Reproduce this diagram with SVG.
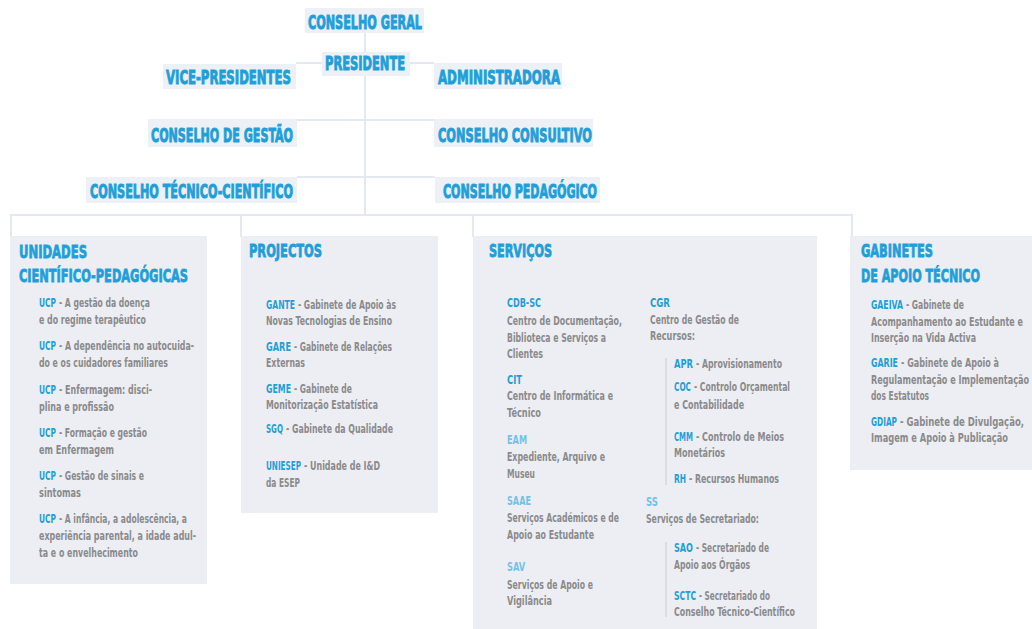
<svg xmlns="http://www.w3.org/2000/svg" width="1032" height="629" viewBox="0 0 1032 629">
  <style>
    text { font-family: "Liberation Sans Narrow", "DejaVu Sans Condensed", "Liberation Sans", sans-serif; }
    .hb { fill: #edf0f5; }
    .ht { fill: #1f9fda; font-size: 19px; font-weight: bold; stroke: #1f9fda; stroke-width: 0.9; }
    .box { fill: #eceef3; }
    .ttl { fill: #1f9fda; font-size: 18px; font-weight: bold; stroke: #1f9fda; stroke-width: 0.8; }
    .tx { fill: #8a8a8c; font-size: 12px; font-weight: bold; }
    .k { fill: #1f9fda; }
    .kl { fill: #74c1e8; }
    .cn { fill: none; stroke: #e4e8f0; stroke-width: 2; }
    .sb { fill: none; stroke: #d3d7df; stroke-width: 1.5; }
  </style>

  <!-- connectors -->
  <g id="connectors">
    <path class="cn" d="M365 33 V215"/>
    <path class="cn" d="M296 63 H434"/>
    <path class="cn" d="M297 120 H434"/>
    <path class="cn" d="M297 177 H435"/>
    <path class="cn" d="M11 237 V215 H852 V237"/>
    <path class="cn" d="M241 215 V237"/>
    <path class="cn" d="M473 215 V237"/>
  </g>

  <!-- governing bodies -->
  <g id="conselho-geral">
    <rect class="hb" x="305" y="8" width="119" height="25"/>
    <text class="ht" x="308" y="29" textLength="114" lengthAdjust="spacingAndGlyphs">CONSELHO GERAL</text>
  </g>
  <g id="presidente">
    <rect class="hb" x="322" y="52" width="88" height="24"/>
    <text class="ht" x="325" y="70" textLength="80" lengthAdjust="spacingAndGlyphs">PRESIDENTE</text>
  </g>
  <g id="vice-presidentes">
    <rect class="hb" x="163" y="64" width="133" height="25"/>
    <text class="ht" x="166" y="84" textLength="125" lengthAdjust="spacingAndGlyphs">VICE-PRESIDENTES</text>
  </g>
  <g id="administradora">
    <rect class="hb" x="434" y="63" width="128" height="26"/>
    <text class="ht" x="438" y="84" textLength="122" lengthAdjust="spacingAndGlyphs">ADMINISTRADORA</text>
  </g>
  <g id="conselho-gestao">
    <rect class="hb" x="148" y="119" width="149" height="28"/>
    <text class="ht" x="151" y="142" textLength="142" lengthAdjust="spacingAndGlyphs">CONSELHO DE GESTÃO</text>
  </g>
  <g id="conselho-consultivo">
    <rect class="hb" x="434" y="119" width="159" height="28"/>
    <text class="ht" x="438" y="142" textLength="154" lengthAdjust="spacingAndGlyphs">CONSELHO CONSULTIVO</text>
  </g>
  <g id="conselho-tecnico-cientifico">
    <rect class="hb" x="86" y="177" width="211" height="26"/>
    <text class="ht" x="90" y="198" textLength="203" lengthAdjust="spacingAndGlyphs">CONSELHO TÉCNICO-CIENTÍFICO</text>
  </g>
  <g id="conselho-pedagogico">
    <rect class="hb" x="435" y="177" width="165" height="26"/>
    <text class="ht" x="443" y="198" textLength="154" lengthAdjust="spacingAndGlyphs">CONSELHO PEDAGÓGICO</text>
  </g>

  <!-- scientific-pedagogical units -->
  <g id="unidades">
    <rect class="box" x="10" y="236" width="197" height="348"/>
    <text class="ttl" x="19" y="258" textLength="68" lengthAdjust="spacingAndGlyphs">UNIDADES</text>
    <text class="ttl" x="19" y="282" textLength="169" lengthAdjust="spacingAndGlyphs">CIENTÍFICO-PEDAGÓGICAS</text>
    <text class="tx k" x="39" y="307" textLength="17" lengthAdjust="spacingAndGlyphs">UCP</text>
    <text class="tx" x="59" y="307" textLength="91" lengthAdjust="spacingAndGlyphs">- A gestão da doença</text>
    <text class="tx" x="39" y="324" textLength="107" lengthAdjust="spacingAndGlyphs">e do regime terapêutico</text>
    <text class="tx k" x="39" y="350" textLength="17" lengthAdjust="spacingAndGlyphs">UCP</text>
    <text class="tx" x="59" y="350" textLength="135" lengthAdjust="spacingAndGlyphs">- A dependência no autocuida-</text>
    <text class="tx" x="39" y="367" textLength="129" lengthAdjust="spacingAndGlyphs">do e os cuidadores familiares</text>
    <text class="tx k" x="39" y="394" textLength="17" lengthAdjust="spacingAndGlyphs">UCP</text>
    <text class="tx" x="59" y="394" textLength="93" lengthAdjust="spacingAndGlyphs">- Enfermagem: disci-</text>
    <text class="tx" x="39" y="411" textLength="75" lengthAdjust="spacingAndGlyphs">plina e profissão</text>
    <text class="tx k" x="39" y="437" textLength="17" lengthAdjust="spacingAndGlyphs">UCP</text>
    <text class="tx" x="59" y="437" textLength="88" lengthAdjust="spacingAndGlyphs">- Formação e gestão</text>
    <text class="tx" x="39" y="454" textLength="75" lengthAdjust="spacingAndGlyphs">em Enfermagem</text>
    <text class="tx k" x="39" y="480" textLength="17" lengthAdjust="spacingAndGlyphs">UCP</text>
    <text class="tx" x="59" y="480" textLength="85" lengthAdjust="spacingAndGlyphs">- Gestão de sinais e</text>
    <text class="tx" x="39" y="497" textLength="42" lengthAdjust="spacingAndGlyphs">sintomas</text>
    <text class="tx k" x="39" y="523" textLength="17" lengthAdjust="spacingAndGlyphs">UCP</text>
    <text class="tx" x="59" y="523" textLength="128" lengthAdjust="spacingAndGlyphs">- A infância, a adolescência, a</text>
    <text class="tx" x="39" y="540" textLength="157" lengthAdjust="spacingAndGlyphs">experiência parental, a idade adul-</text>
    <text class="tx" x="39" y="557" textLength="99" lengthAdjust="spacingAndGlyphs">ta e o envelhecimento</text>
  </g>

  <!-- projects -->
  <g id="projectos">
    <rect class="box" x="241" y="236" width="197" height="277"/>
    <text class="ttl" x="249" y="257" textLength="73" lengthAdjust="spacingAndGlyphs">PROJECTOS</text>
    <text class="tx k" x="266" y="309" textLength="29" lengthAdjust="spacingAndGlyphs">GANTE</text>
    <text class="tx" x="298" y="309" textLength="98" lengthAdjust="spacingAndGlyphs">- Gabinete de Apoio às</text>
    <text class="tx" x="266" y="325" textLength="126" lengthAdjust="spacingAndGlyphs">Novas Tecnologias de Ensino</text>
    <text class="tx k" x="266" y="351" textLength="25" lengthAdjust="spacingAndGlyphs">GARE</text>
    <text class="tx" x="294" y="351" textLength="98" lengthAdjust="spacingAndGlyphs">- Gabinete de Relações</text>
    <text class="tx" x="266" y="367" textLength="39" lengthAdjust="spacingAndGlyphs">Externas</text>
    <text class="tx k" x="266" y="393" textLength="25" lengthAdjust="spacingAndGlyphs">GEME</text>
    <text class="tx" x="294" y="393" textLength="58" lengthAdjust="spacingAndGlyphs">- Gabinete de</text>
    <text class="tx" x="266" y="409" textLength="112" lengthAdjust="spacingAndGlyphs">Monitorização Estatística</text>
    <text class="tx k" x="266" y="433" textLength="17" lengthAdjust="spacingAndGlyphs">SGQ</text>
    <text class="tx" x="286" y="433" textLength="107" lengthAdjust="spacingAndGlyphs">- Gabinete da Qualidade</text>
    <text class="tx k" x="266" y="470" textLength="35" lengthAdjust="spacingAndGlyphs">UNIESEP</text>
    <text class="tx" x="304" y="470" textLength="76" lengthAdjust="spacingAndGlyphs">- Unidade de I&amp;D</text>
    <text class="tx" x="266" y="487" textLength="34" lengthAdjust="spacingAndGlyphs">da ESEP</text>
  </g>

  <!-- services -->
  <g id="servicos">
    <rect class="box" x="473" y="236" width="344" height="393"/>
    <text class="ttl" x="489" y="257" textLength="63" lengthAdjust="spacingAndGlyphs">SERVIÇOS</text>
    <text class="tx k" x="507" y="307" textLength="34" lengthAdjust="spacingAndGlyphs">CDB-SC</text>
    <text class="tx" x="507" y="325" textLength="115" lengthAdjust="spacingAndGlyphs">Centro de Documentação,</text>
    <text class="tx" x="507" y="342" textLength="99" lengthAdjust="spacingAndGlyphs">Biblioteca e Serviços a</text>
    <text class="tx" x="507" y="358" textLength="36" lengthAdjust="spacingAndGlyphs">Clientes</text>
    <text class="tx k" x="507" y="384" textLength="15" lengthAdjust="spacingAndGlyphs">CIT</text>
    <text class="tx" x="507" y="400" textLength="106" lengthAdjust="spacingAndGlyphs">Centro de Informática e</text>
    <text class="tx" x="507" y="417" textLength="34" lengthAdjust="spacingAndGlyphs">Técnico</text>
    <text class="tx kl" x="507" y="444" textLength="20" lengthAdjust="spacingAndGlyphs">EAM</text>
    <text class="tx" x="507" y="461" textLength="98" lengthAdjust="spacingAndGlyphs">Expediente, Arquivo e</text>
    <text class="tx" x="507" y="478" textLength="28" lengthAdjust="spacingAndGlyphs">Museu</text>
    <text class="tx kl" x="507" y="505" textLength="24" lengthAdjust="spacingAndGlyphs">SAAE</text>
    <text class="tx" x="507" y="522" textLength="112" lengthAdjust="spacingAndGlyphs">Serviços Académicos e de</text>
    <text class="tx" x="507" y="539" textLength="87" lengthAdjust="spacingAndGlyphs">Apoio ao Estudante</text>
    <text class="tx kl" x="507" y="571" textLength="18" lengthAdjust="spacingAndGlyphs">SAV</text>
    <text class="tx" x="507" y="589" textLength="86" lengthAdjust="spacingAndGlyphs">Serviços de Apoio e</text>
    <text class="tx" x="507" y="605" textLength="45" lengthAdjust="spacingAndGlyphs">Vigilância</text>

    <text class="tx k" x="650" y="307" textLength="20" lengthAdjust="spacingAndGlyphs">CGR</text>
    <text class="tx" x="650" y="324" textLength="89" lengthAdjust="spacingAndGlyphs">Centro de Gestão de</text>
    <text class="tx" x="650" y="340" textLength="45" lengthAdjust="spacingAndGlyphs">Recursos:</text>
    <path class="sb" d="M666 358 V485"/>
    <text class="tx k" x="674" y="368" textLength="19" lengthAdjust="spacingAndGlyphs">APR</text>
    <text class="tx" x="696" y="368" textLength="86" lengthAdjust="spacingAndGlyphs">- Aprovisionamento</text>
    <text class="tx k" x="674" y="391" textLength="17" lengthAdjust="spacingAndGlyphs">COC</text>
    <text class="tx" x="694" y="391" textLength="96" lengthAdjust="spacingAndGlyphs">- Controlo Orçamental</text>
    <text class="tx" x="674" y="409" textLength="70" lengthAdjust="spacingAndGlyphs">e Contabilidade</text>
    <text class="tx k" x="674" y="441" textLength="19" lengthAdjust="spacingAndGlyphs">CMM</text>
    <text class="tx" x="696" y="441" textLength="88" lengthAdjust="spacingAndGlyphs">- Controlo de Meios</text>
    <text class="tx" x="674" y="457" textLength="51" lengthAdjust="spacingAndGlyphs">Monetários</text>
    <text class="tx k" x="674" y="483" textLength="12" lengthAdjust="spacingAndGlyphs">RH</text>
    <text class="tx" x="689" y="483" textLength="90" lengthAdjust="spacingAndGlyphs">- Recursos Humanos</text>

    <text class="tx kl" x="646" y="506" textLength="12" lengthAdjust="spacingAndGlyphs">SS</text>
    <text class="tx" x="646" y="523" textLength="113" lengthAdjust="spacingAndGlyphs">Serviços de Secretariado:</text>
    <path class="sb" d="M666 542 V617"/>
    <text class="tx k" x="674" y="552" textLength="19" lengthAdjust="spacingAndGlyphs">SAO</text>
    <text class="tx" x="696" y="552" textLength="73" lengthAdjust="spacingAndGlyphs">- Secretariado de</text>
    <text class="tx" x="674" y="569" textLength="76" lengthAdjust="spacingAndGlyphs">Apoio aos Órgãos</text>
    <text class="tx k" x="674" y="600" textLength="22" lengthAdjust="spacingAndGlyphs">SCTC</text>
    <text class="tx" x="699" y="600" textLength="71" lengthAdjust="spacingAndGlyphs">- Secretariado do</text>
    <text class="tx" x="674" y="616" textLength="121" lengthAdjust="spacingAndGlyphs">Conselho Técnico-Científico</text>
  </g>

  <!-- technical support offices -->
  <g id="gabinetes">
    <rect class="box" x="850" y="236" width="182" height="234"/>
    <text class="ttl" x="861" y="257" textLength="72" lengthAdjust="spacingAndGlyphs">GABINETES</text>
    <text class="ttl" x="861" y="282" textLength="119" lengthAdjust="spacingAndGlyphs">DE APOIO TÉCNICO</text>
    <text class="tx k" x="871" y="309" textLength="32" lengthAdjust="spacingAndGlyphs">GAEIVA</text>
    <text class="tx" x="906" y="309" textLength="58" lengthAdjust="spacingAndGlyphs">- Gabinete de</text>
    <text class="tx" x="871" y="326" textLength="152" lengthAdjust="spacingAndGlyphs">Acompanhamento ao Estudante e</text>
    <text class="tx" x="871" y="342" textLength="105" lengthAdjust="spacingAndGlyphs">Inserção na Vida Activa</text>
    <text class="tx k" x="871" y="367" textLength="27" lengthAdjust="spacingAndGlyphs">GARIE</text>
    <text class="tx" x="901" y="367" textLength="98" lengthAdjust="spacingAndGlyphs">- Gabinete de Apoio à</text>
    <text class="tx" x="871" y="384" textLength="158" lengthAdjust="spacingAndGlyphs">Regulamentação e Implementação</text>
    <text class="tx" x="871" y="400" textLength="58" lengthAdjust="spacingAndGlyphs">dos Estatutos</text>
    <text class="tx k" x="871" y="426" textLength="26" lengthAdjust="spacingAndGlyphs">GDIAP</text>
    <text class="tx" x="900" y="426" textLength="124" lengthAdjust="spacingAndGlyphs">- Gabinete de Divulgação,</text>
    <text class="tx" x="871" y="442" textLength="137" lengthAdjust="spacingAndGlyphs">Imagem e Apoio à Publicação</text>
  </g>
</svg>
